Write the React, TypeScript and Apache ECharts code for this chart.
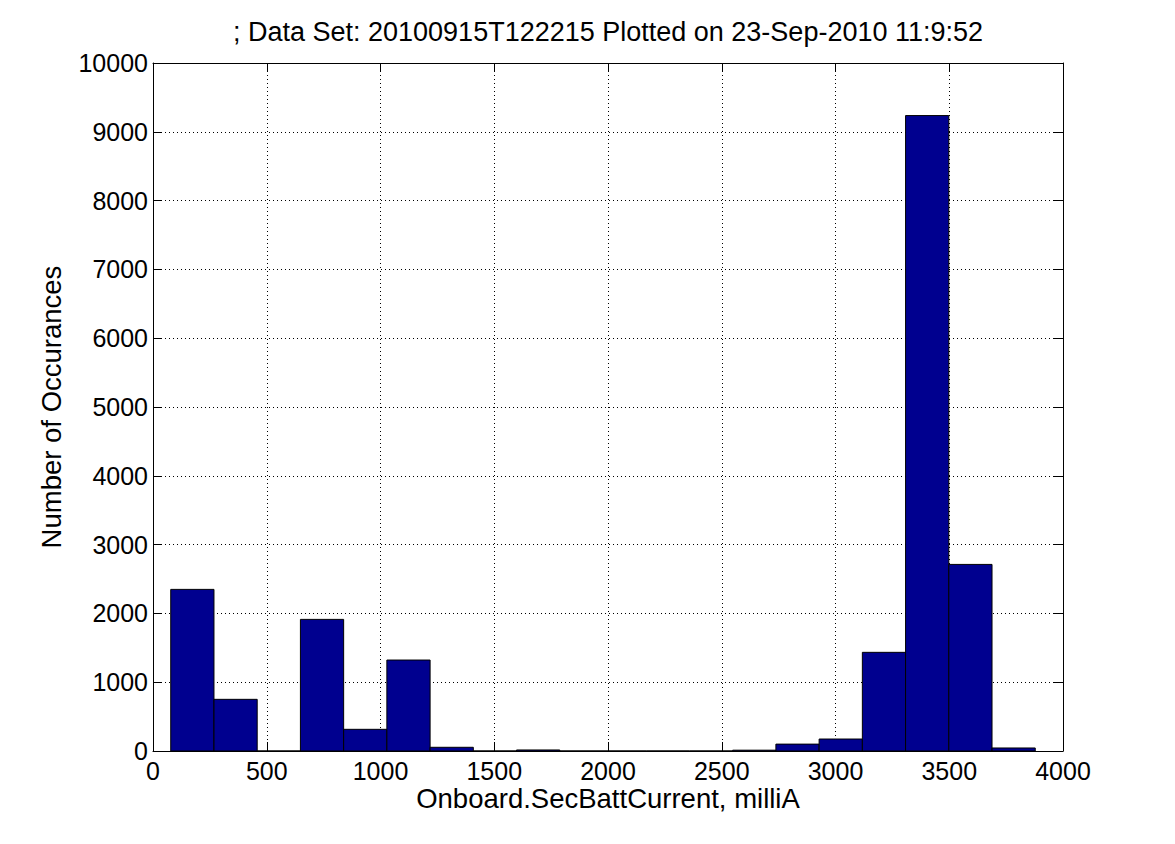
import React, { useEffect, useRef } from "react";
import * as echarts from "echarts";

// Histogram bins (centers in milliA) and counts
const binCenters = [173, 363, 553, 743, 933, 1123, 1313, 1503, 1693, 1883, 2073, 2263, 2453, 2643, 2833, 3023, 3213, 3403, 3593, 3783];
const binCounts = [2349, 751, 0, 1913, 315, 1322, 54, 0, 15, 0, 0, 0, 0, 12, 100, 174, 1434, 9236, 2712, 44];
const binWidth = 190;

const xTicks = [0, 500, 1000, 1500, 2000, 2500, 3000, 3500, 4000];
const yTicks = [0, 1000, 2000, 3000, 4000, 5000, 6000, 7000, 8000, 9000, 10000];

const titleText = "; Data Set: 20100915T122215 Plotted on 23-Sep-2010 11:9:52";
const xLabel = "Onboard.SecBattCurrent, milliA";
const yLabel = "Number of Occurances";

const FONT = "'Liberation Sans', Arial, Helvetica, sans-serif";

export default function App() {
  const ref = useRef<HTMLDivElement>(null);

  useEffect(() => {
    if (!ref.current) return;
    const chart = echarts.init(ref.current, undefined, { renderer: "svg" });

    const xMin = xTicks[0];
    const xMax = xTicks[xTicks.length - 1];
    const xInt = xTicks[1] - xTicks[0];
    const yMin = yTicks[0];
    const yMax = yTicks[yTicks.length - 1];
    const yInt = yTicks[1] - yTicks[0];

    const axisLine = { show: true, onZero: false, lineStyle: { color: "#000", width: 1 } };
    const axisTick = { show: true, inside: true, length: 9, lineStyle: { color: "#000", width: 1 } };
    const labelBase = {
      color: "#000",
      fontSize: 25,
      lineHeight: 20,
      fontFamily: FONT,
      formatter: (v: number) => String(v),
      showMinLabel: true,
      showMaxLabel: true,
    };
    const splitLine = { show: true, lineStyle: { color: "#000", width: 1, type: [1, 3] } };

    chart.setOption({
      animation: false,
      backgroundColor: "#fff",
      grid: { left: 153, top: 63, right: 112, bottom: 93, containLabel: false },
      xAxis: [
        {
          type: "value", min: xMin, max: xMax, interval: xInt, position: "bottom",
          axisLine, axisTick,
          axisLabel: { ...labelBase, margin: 9.5 },
          splitLine,
        },
        {
          type: "value", min: xMin, max: xMax, interval: xInt, position: "top",
          axisLine, axisTick, axisLabel: { show: false }, splitLine: { show: false },
        },
      ],
      yAxis: [
        {
          type: "value", min: yMin, max: yMax, interval: yInt, position: "left",
          axisLine, axisTick,
          axisLabel: { ...labelBase, margin: 5 },
          splitLine,
        },
        {
          type: "value", min: yMin, max: yMax, interval: yInt, position: "right",
          axisLine, axisTick, axisLabel: { show: false }, splitLine: { show: false },
        },
      ],
      series: [
        {
          type: "custom",
          xAxisIndex: 0,
          yAxisIndex: 0,
          data: binCenters.map((c, i) => [c, binCounts[i]]),
          renderItem: (params: any, api: any) => {
            const c = api.value(0);
            const v = api.value(1);
            const p0 = api.coord([c - binWidth / 2, v]);
            const p1 = api.coord([c + binWidth / 2, 0]);
            return {
              type: "rect",
              shape: { x: p0[0], y: p0[1], width: p1[0] - p0[0], height: p1[1] - p0[1] },
              style: { fill: "#00008F", stroke: "#000", lineWidth: 1 },
            };
          },
        },
      ],
      graphic: [
        {
          type: "text", x: 608, y: 32,
          style: { text: titleText, fill: "#000", font: `27px ${FONT}`, lineHeight: 26, align: "center", verticalAlign: "middle" },
        },
        {
          type: "text", x: 608, y: 798,
          style: { text: xLabel, fill: "#000", font: `27.5px ${FONT}`, lineHeight: 22, align: "center", verticalAlign: "middle" },
        },
        {
          type: "text", x: 51, y: 407, rotation: Math.PI / 2,
          style: { text: yLabel, fill: "#000", font: `27.5px ${FONT}`, lineHeight: 24, align: "center", verticalAlign: "middle" },
        },
      ],
    });

    return () => chart.dispose();
  }, []);

  return (
    <div
      ref={ref}
      style={{ position: "absolute", left: 0, top: 0, width: 1175, height: 844, background: "#fff" }}
    />
  );
}
